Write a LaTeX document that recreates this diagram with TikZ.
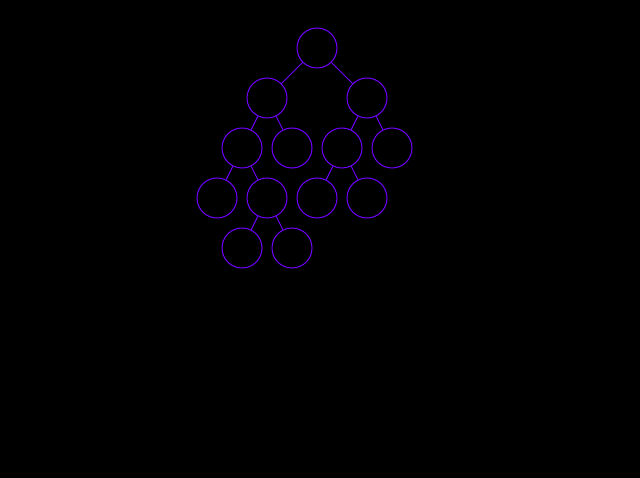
\documentclass[tikz,border=0pt]{standalone}
\definecolor{treeviolet}{RGB}{112,0,255}
\begin{document}
\begin{tikzpicture}[
        x=1pt, y=-1pt,
        vertex/.style={circle, draw=treeviolet, line width=1pt, minimum size=40pt, inner sep=0pt},
        branch/.style={draw=treeviolet, line width=0.9pt},
        ]
        % Background
        \fill[black] (0,0) rectangle (640,478);
        \useasboundingbox (0,0) rectangle (640,478);

        % Nodes
        \node[vertex] (root) at (317,48) {};
        \node[vertex] (l) at (267,98) {};
        \node[vertex] (r) at (367,98) {};
        \node[vertex] (ll) at (242,148) {};
        \node[vertex] (lr) at (292,148) {};
        \node[vertex] (rl) at (342,148) {};
        \node[vertex] (rr) at (392,148) {};
        \node[vertex] (lll) at (217,198) {};
        \node[vertex] (llr) at (267,198) {};
        \node[vertex] (rll) at (317,198) {};
        \node[vertex] (rlr) at (367,198) {};
        \node[vertex] (llrl) at (242,248) {};
        \node[vertex] (llrr) at (292,248) {};

        % Branches
        \draw[branch] (root) -- (l);
        \draw[branch] (root) -- (r);
        \draw[branch] (l) -- (ll);
        \draw[branch] (l) -- (lr);
        \draw[branch] (r) -- (rl);
        \draw[branch] (r) -- (rr);
        \draw[branch] (ll) -- (lll);
        \draw[branch] (ll) -- (llr);
        \draw[branch] (rl) -- (rll);
        \draw[branch] (rl) -- (rlr);
        \draw[branch] (llr) -- (llrl);
        \draw[branch] (llr) -- (llrr);

    \end{tikzpicture}
\end{document}
